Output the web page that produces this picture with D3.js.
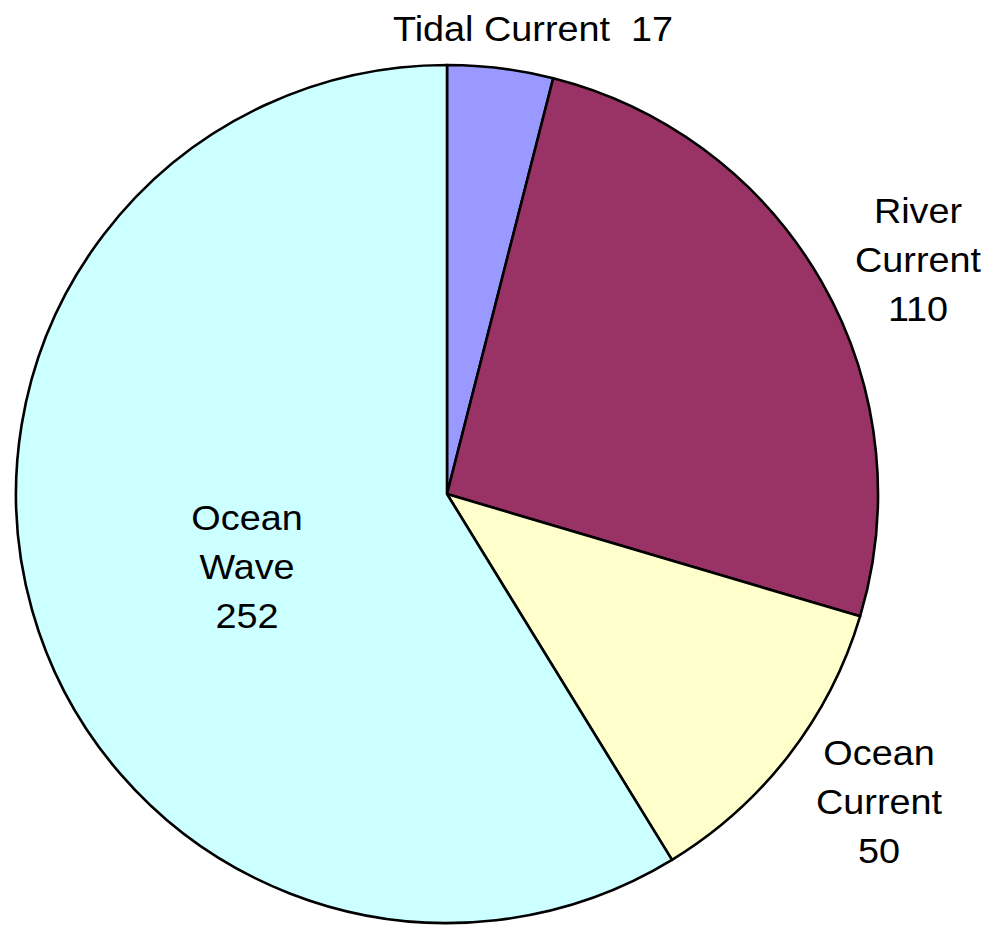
<!DOCTYPE html>
<html>
<head>
<meta charset="utf-8">
<script src="https://cdn.jsdelivr.net/npm/d3@7"></script>
<style>
  html, body { margin: 0; padding: 0; background: #fff; }
  svg { display: block; }
  text { font-family: "Liberation Sans", Arial, sans-serif; fill: #000; }
</style>
</head>
<body>
<svg id="chart" width="991" height="926"></svg>
<script>
// Power potential by source
const categories = ["Tidal Current", "River Current", "Ocean Current", "Ocean Wave"];
const values = [17, 110, 50, 252];
const colors = ["#9999FF", "#993366", "#FFFFCC", "#CCFFFF"];

// How each label is broken into lines (value appended as the last part)
const labelLines = [
  ["Tidal Current  {v}"],
  ["River", "Current", "{v}"],
  ["Ocean", "Current", "{v}"],
  ["Ocean", "Wave", "{v}"]
];

// Label placement (centre x, first baseline y)
const labelPos = [
  { x: 533, y: 41 },
  { x: 918, y: 223 },
  { x: 879, y: 765 },
  { x: 247, y: 530 }
];
const lineGap = 49;

const cx = 447, cy = 494, rx = 431, ry = 429;

const svg = d3.select("#chart");

const pie = d3.pie().sort(null).value(d => d.value)
  .startAngle(0).endAngle(2 * Math.PI);
const data = categories.map((c, i) => ({ name: c, value: values[i], color: colors[i] }));
const arcs = pie(data);

const arc = d3.arc().innerRadius(0).outerRadius(rx);

const g = svg.append("g")
  .attr("transform", `translate(${cx},${cy}) scale(1,${ry / rx})`);

g.selectAll("path")
  .data(arcs)
  .join("path")
  .attr("d", arc)
  .attr("fill", d => d.data.color)
  .attr("stroke", "#000")
  .attr("stroke-width", 2.6)
  .attr("vector-effect", "non-scaling-stroke")
  .attr("stroke-linejoin", "round");

// Labels
const labels = svg.append("g");
data.forEach((d, i) => {
  const p = labelPos[i];
  const t = labels.append("g")
    .attr("transform", `translate(${p.x},${p.y}) scale(1.08,1)`);
  labelLines[i].forEach((line, j) => {
    t.append("text")
      .attr("x", 0)
      .attr("y", j * lineGap)
      .attr("text-anchor", "middle")
      .attr("font-size", 35)
      .style("white-space", "pre")
      .attr("xml:space", "preserve")
      .text(line.replace("{v}", d.value));
  });
});
</script>
</body>
</html>
